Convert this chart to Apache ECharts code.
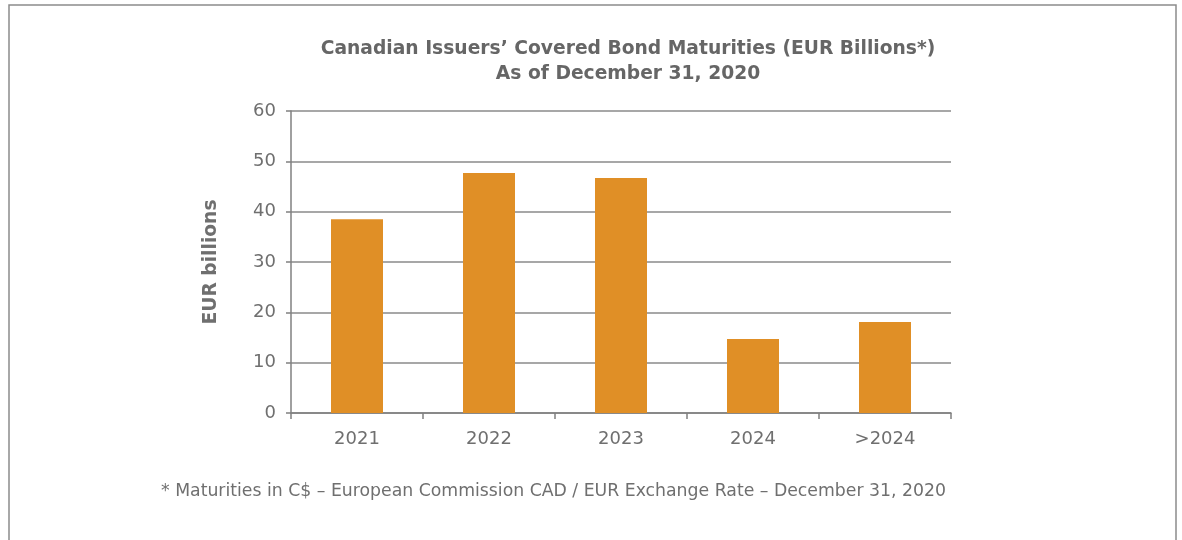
<!DOCTYPE html>
<html>
<head>
<meta charset="utf-8">
<script src="https://cdn.jsdelivr.net/npm/echarts@6/dist/echarts.min.js"></script>
<style>
  html, body { margin: 0; padding: 0; background: #fff; }
  #chart { width: 1182px; height: 540px; }
</style>
</head>
<body>
<div id="chart"></div>
<script>
// values
const categories = ['2021', '2022', '2023', '2024', '>2024']
const maturities = [38.5, 47.7, 46.7, 14.7, 18.1]
const titleLines = ['Canadian Issuers\u2019 Covered Bond Maturities (EUR Billions*)', 'As of December 31, 2020']
const footnote = '* Maturities in C$ \u2013 European Commission CAD / EUR Exchange Rate \u2013 December 31, 2020'

const font = '"DejaVu Sans"'
const grey = '#6f6f6f'

var chart = echarts.init(document.getElementById('chart'), null, {renderer: 'canvas'})

var option = {
    animation: false,
    title: {
        text: titleLines.join('\n'),
        left: 623,
        textAlign: 'center',
        top: 32,
        textStyle: {
            fontFamily: font,
            fontSize: 18.7,
            fontWeight: 'bold',
            color: '#666',
            lineHeight: 25
        }
    },
    grid: {
        left: 291,
        right: 231,
        top: 111,
        bottom: 127,
        containLabel: false
    },
    xAxis: {
        type: 'category',
        data: categories,
        axisLine: {lineStyle: {color: '#808080', width: 1.5}},
        axisTick: {show: true, length: 6, alignWithLabel: false, lineStyle: {color: '#808080', width: 1.5}},
        axisLabel: {fontFamily: font, fontSize: 18, color: grey, margin: 17}
    },
    yAxis: {
        type: 'value',
        min: 0,
        max: 60,
        interval: 10,
        name: 'EUR billions',
        nameLocation: 'middle',
        nameGap: 70,
        nameTextStyle: {fontFamily: font, fontSize: 18.7, fontWeight: 'bold', color: grey},
        axisLine: {show: true, lineStyle: {color: '#808080', width: 1.5}},
        axisTick: {show: true, length: 5, lineStyle: {color: '#808080', width: 1.5}},
        axisLabel: {fontFamily: font, fontSize: 18, color: grey, margin: 15},
        splitLine: {lineStyle: {color: '#8a8a8a', width: 1.5}}
    },
    series: [{
        type: 'bar',
        data: maturities,
        barWidth: 52,
        itemStyle: {color: '#e08f26'}
    }],
    graphic: [
        {
            type: 'rect',
            shape: {x: 9, y: 5, width: 1167, height: 560},
            style: {fill: 'none', stroke: '#8c8c8c', lineWidth: 1.5},
            silent: true
        },
        {
            type: 'text',
            left: 161,
            top: 483,
            style: {text: footnote, fontFamily: font, fontSize: 17.3, fill: grey}
        }
    ]
}

chart.setOption(option)
</script>
</body>
</html>
